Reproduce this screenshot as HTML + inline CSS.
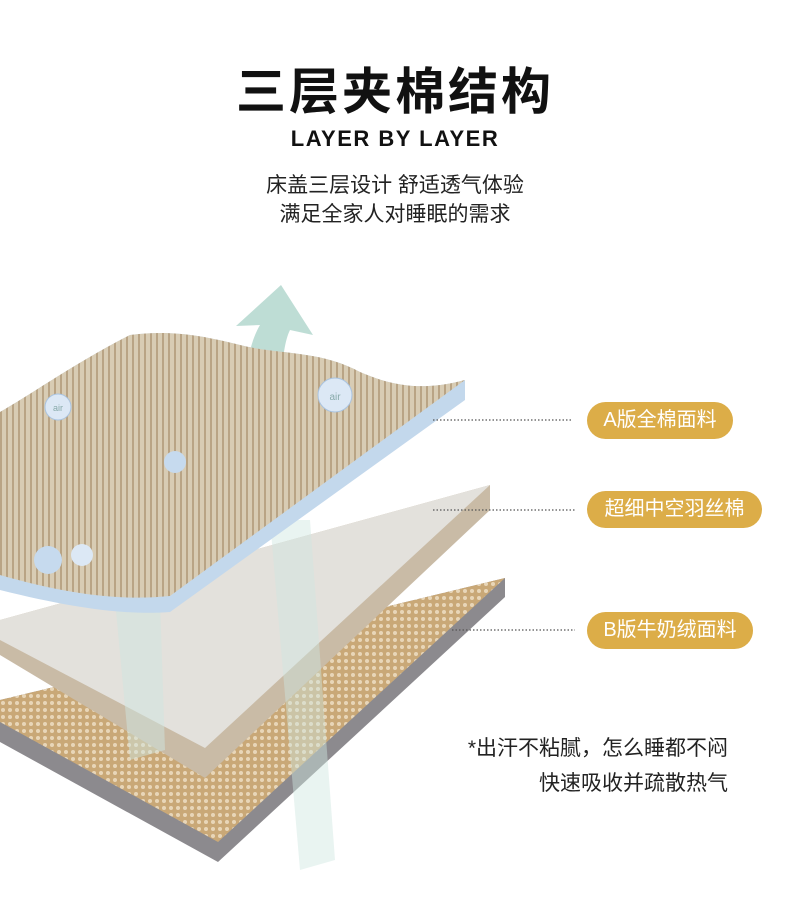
<!DOCTYPE html>
<html><head><meta charset="utf-8"><style>
body{margin:0;width:790px;height:919px;background:#fff;overflow:hidden;position:relative;font-family:"Liberation Sans","Noto Sans CJK SC",sans-serif}
.t{position:absolute;left:0;width:790px;text-align:center;color:#111}
.pill{position:absolute;left:587px;height:37px;border-radius:19px;background:#dcad48;color:#fff;font-size:20px;line-height:37px;text-align:center}
</style></head><body>
<div class="t" style="top:52px;font-size:50px;font-weight:bold;letter-spacing:3px">三层夹棉结构</div>
<div class="t" style="top:126px;font-size:22px;font-weight:bold;letter-spacing:1.5px">LAYER BY LAYER</div>
<div class="t" style="top:171px;font-size:21px;line-height:29px;color:#222">床盖三层设计 舒适透气体验<br>满足全家人对睡眠的需求</div>
<svg width="790" height="919" style="position:absolute;left:0;top:0">
<defs>
<pattern id="pl" width="6" height="6" patternUnits="userSpaceOnUse"><rect width="6" height="6" fill="#d8ccb4"/><rect width="2" height="6" fill="#b9a485"/></pattern>
<pattern id="fl" width="7" height="7" patternUnits="userSpaceOnUse"><rect width="7" height="7" fill="#c9a877"/><circle cx="3" cy="3" r="2" fill="#e8d6b8"/></pattern>
</defs>
<path d="M245,470 C240,400 245,350 260,325 L236,326 L281,285 L313,335 L290,330 C280,350 280,400 282,470 Z" fill="#b7d9d0" opacity="0.9"/>
<polygon points="0,700 505,578 505,597 218,862 0,742" fill="#8c8a8e"/>
<polygon points="0,700 505,578 218,842 0,722" fill="url(#fl)"/>
<polygon points="0,620 490,485 490,510 205,778 0,655" fill="#c9bba6"/>
<polygon points="0,620 490,485 205,748 0,640" fill="#e3e1dc"/>
<path d="M115,600 L160,600 L165,750 L130,760 Z" fill="#cfe6df" opacity="0.5"/>
<path d="M270,520 L310,520 L335,860 L300,870 Z" fill="#cfe6df" opacity="0.45"/>
<path d="M0,590 C80,610 130,615 170,612 L465,400 L465,380 C420,392 390,385 360,372 C320,350 280,355 240,345 C200,335 170,330 130,335 C80,360 30,395 0,412 Z" fill="#c3d8ec"/>
<path d="M0,575 C80,598 130,600 170,596 L465,380 C420,392 390,385 360,372 C320,350 280,355 240,345 C200,335 170,330 130,335 C80,360 30,395 0,412 Z" fill="url(#pl)"/>
<circle cx="58" cy="407" r="13" fill="#dce8f5" stroke="#a9c3e0"/><text x="58" y="411" font-size="9" text-anchor="middle" fill="#8aa">air</text>
<circle cx="335" cy="395" r="17" fill="#dce8f5" stroke="#a9c3e0"/><text x="335" y="400" font-size="10" text-anchor="middle" fill="#8aa">air</text>
<circle cx="175" cy="462" r="11" fill="#c6daee"/><circle cx="48" cy="560" r="14" fill="#c6daee"/><circle cx="82" cy="555" r="11" fill="#dce8f5"/>
<g stroke="#555" stroke-width="1.2" stroke-dasharray="1.5 2">
<line x1="433" y1="420" x2="573" y2="420"/><line x1="433" y1="510" x2="575" y2="510"/><line x1="452" y1="630" x2="575" y2="630"/>
</g>
</svg>
<div class="pill" style="top:402px;width:146px">A版全棉面料</div>
<div class="pill" style="top:491px;width:175px">超细中空羽丝棉</div>
<div class="pill" style="top:612px;width:166px">B版牛奶绒面料</div>
<div style="position:absolute;right:62px;top:731px;text-align:right;font-size:21px;line-height:35px;color:#222">*出汗不粘腻，怎么睡都不闷<br>快速吸收并疏散热气</div>
</body></html>
